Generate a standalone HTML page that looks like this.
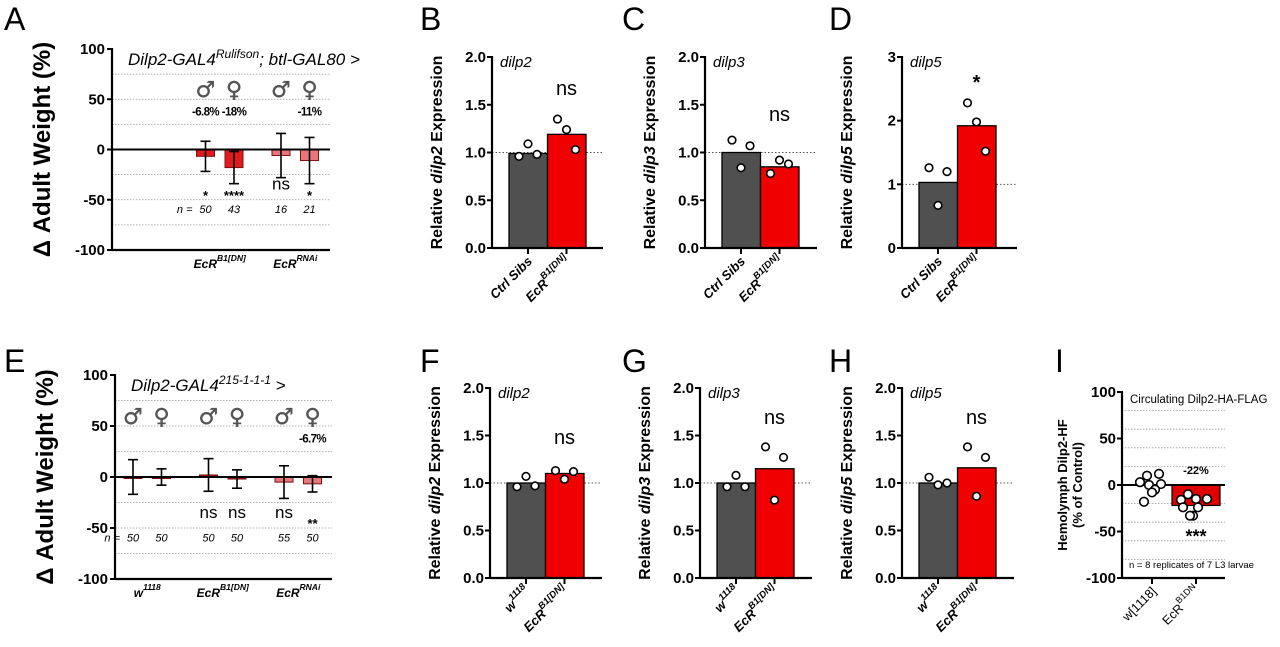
<!DOCTYPE html>
<html><head><meta charset="utf-8"><style>
body{margin:0;background:#fff}
svg{display:block;font-family:"Liberation Sans",Arial,sans-serif}
</style></head><body>
<svg id="fig" width="1280" height="647" viewBox="0 0 1280 647" xmlns="http://www.w3.org/2000/svg"></svg>
<script>
// ---- data: weight panels ----
const weightCats = ["w1118 male","w1118 female","EcRB1DN male","EcRB1DN female","EcRRNAi male","EcRRNAi female"];
const weightA = [null,null,-6.8,-18,-6,-11];
const weightAErr = [null,null,15,16,22,23];
const weightANs = ["","","50","43","16","21"];
const weightAStars = ["","","*","****","ns","*"];
const weightE = [0,0,2,-2,-5,-6.7];
const weightEErr = [17,8,16,9,16,8];
const weightENs = ["50","50","50","50","55","50"];
const weightEStars = ["","","ns","ns","ns","**"];
const weightTicks = [100,50,0,-50,-100];
// ---- data: expression panels ----
const exprCats = ["ctrl","EcRB1DN"];
const exprB = [0.99,1.19]; const exprBPts = [[0.96,1.09,0.98],[1.35,1.24,1.03]];
const exprC = [1.0,0.85]; const exprCPts = [[1.13,0.84,1.07],[0.78,0.92,0.88]];
const exprD = [1.03,1.92]; const exprDPts = [[1.26,0.67,1.2],[2.28,1.98,1.52]];
const exprF = [1.0,1.1]; const exprFPts = [[0.96,1.07,0.97],[1.13,1.04,1.12]];
const exprG = [1.0,1.15]; const exprGPts = [[0.96,1.08,0.96],[1.38,0.82,1.27]];
const exprH = [1.0,1.16]; const exprHPts = [[1.06,0.98,1.0],[1.38,0.86,1.27]];
const ticks2 = [0,0.5,1.0,1.5,2.0];
const ticks3 = [0,1,2,3];
// ---- data: panel I ----
const hemoBar = [0,-22];
const hemoW = [3,10,0,12,1,-5,-8,-18];
const hemoE = [-10,-15,-15,-16,-24,-24,-33,-33];
const hemoTicks = [100,50,0,-50,-100];

const svg = document.getElementById('fig');
const NS = "http://www.w3.org/2000/svg";
function el(tag, attrs, parent){const e=document.createElementNS(NS,tag);for(const k in attrs)e.setAttribute(k,attrs[k]);(parent||svg).appendChild(e);return e;}
function txt(s, attrs, parent){const e=el('text',attrs,parent);e.textContent=s;return e;}
function supTxt(base, sup, attrs, supSize, parent){
  const e=el('text',attrs,parent);
  const t1=document.createElementNS(NS,'tspan');t1.textContent=base;e.appendChild(t1);
  const t2=document.createElementNS(NS,'tspan');t2.setAttribute('dy','-7');t2.setAttribute('font-size',supSize);t2.textContent=sup;e.appendChild(t2);
  return e;
}
function richTxt(parts, attrs, supSize, parent){
  const e=el('text',attrs,parent);
  let up=false;
  parts.forEach(([s,sup])=>{
    const t=document.createElementNS(NS,'tspan');t.textContent=s;
    if(sup&&!up){t.setAttribute('dy','-7');up=true;}
    else if(!sup&&up){t.setAttribute('dy','7');up=false;}
    if(sup)t.setAttribute('font-size',supSize);
    e.appendChild(t);
  });
  return e;
}
function letter(s,x,y){const t=txt(s,{x:x,y:y,'font-size':32});

}

letter("A",4,30);letter("B",420,30);letter("C",622,30);letter("D",829,30);
letter("E",4,372);letter("F",420,372);letter("G",622,372);letter("H",829,372);letter("I",1055,372);

function weightPanel(ax, y100, yM100, xend, vals, errs, ns, stars, colors, titleParts, groupLabels, pct, nPrefixSlot, name){
  const g=el('g',{});
  
  
  const yS=v=>y100+(100-v)*(yM100-y100)/200;
  const xS=i=>ax+18+75.5*Math.floor(i/2)+28.5*(i%2);
  for(let v=75;v>=-75;v-=25){ if(v===0)continue;
    el('line',{x1:ax,x2:xend,y1:yS(v),y2:yS(v),stroke:'#999','stroke-width':0.8,'stroke-dasharray':'1.5,1.5'},g);}
  weightTicks.forEach(t=>{
    el('line',{x1:ax-5,x2:ax,y1:yS(t),y2:yS(t),stroke:'#000','stroke-width':2},g);
    txt(String(t),{x:ax-7,y:yS(t)+5,'text-anchor':'end','font-size':15,'font-weight':'bold'},g);
  });
  vals.forEach((v,i)=>{ if(v===null)return;
    const x=xS(i), y0=yS(0), y=yS(v);
    const b=el('rect',{x:x-9,y:Math.min(y,y0),width:18,height:Math.max(Math.abs(y-y0),1.5),fill:colors[i],stroke:'#7a1010','stroke-width':1},g);
    
    
    const e=errs[i];
    el('line',{x1:x,x2:x,y1:yS(v+e),y2:yS(v-e),stroke:'#000','stroke-width':1.6},g);
    el('line',{x1:x-5,x2:x+5,y1:yS(v+e),y2:yS(v+e),stroke:'#000','stroke-width':1.6},g);
    el('line',{x1:x-5,x2:x+5,y1:yS(v-e),y2:yS(v-e),stroke:'#000','stroke-width':1.6},g);
    txt(i%2===0?'♂':'♀',{x:x,y:yS(52),'text-anchor':'middle','font-size':22,fill:'#555','font-family':'DejaVu Sans',stroke:'#555','stroke-width':0.4},g);
    txt(ns[i],{x:x,y:yS(-63),'text-anchor':'middle','font-size':11,'font-style':'italic'},g);
    if(stars[i]==='ns') txt('ns',{x:x,y:yS(-40),'text-anchor':'middle','font-size':17},g);
    else if(stars[i]) txt(stars[i],{x:x,y:yS(-50),'text-anchor':'middle','font-size':13,'font-weight':'bold'},g);
    if(pct[i]) txt(pct[i],{x:x,y:yS(34),'text-anchor':'middle','font-size':11.5,'font-weight':'bold','letter-spacing':'-0.6'},g);
  });
  el('line',{x1:ax,x2:xend,y1:yS(0),y2:yS(0),stroke:'#000','stroke-width':2},g);
  el('line',{x1:ax,x2:ax,y1:y100-1,y2:yM100+1,stroke:'#000','stroke-width':2.2},g);
  el('line',{x1:ax,x2:xend,y1:yM100,y2:yM100,stroke:'#000','stroke-width':2.2},g);
  txt('n =',{x:xS(nPrefixSlot)-13,y:yS(-63),'text-anchor':'end','font-size':11,'font-style':'italic'},g);
  richTxt(titleParts,{x:ax+16,y:y100+16,'font-size':17,'font-style':'italic'},12,g);
  groupLabels.forEach((gl,k)=>{ if(!gl)return;
    const cx=(xS(2*k)+xS(2*k+1))/2;
    supTxt(gl[0],gl[1],{x:cx,y:yM100+18,'text-anchor':'middle','font-size':12,'font-weight':'bold','font-style':'italic'},8.5,g);
  });
  const yt=txt('Δ Adult Weight (%)',{x:0,y:0,'text-anchor':'middle','font-size':24,'font-weight':'bold',transform:`translate(${ax-62},${(y100+yM100)/2}) rotate(-90)`},g);
  
  
}
weightPanel(112,49,250,330,weightA,weightAErr,weightANs,weightAStars,
  [null,null,'#e31a1c','#e31a1c','#e8777a','#e8777a'],[['Dilp2-GAL4',false],['Rulifson',true],['; btl-GAL80 >',false]],
  [null,['EcR','B1[DN]'],['EcR','RNAi']],['','','-6.8%','-18%','','-11%'],2,'panel-a-weight-chart');
weightPanel(115,375,579,332,weightE,weightEErr,weightENs,weightEStars,
  ['none','none','#b01010','#b01010','#e8777a','#e8777a'],[['Dilp2-GAL4',false],['215-1-1-1',true],[' >',false]],
  [['w','1118'],['EcR','B1[DN]'],['EcR','RNAi']],['','','','','','-6.7%'],0,'panel-e-weight-chart');

function exprPanel(ax,yTop,yBot,xend,maxV,ticks,tickFmt,vals,pts,gene,sig,sigV,labels,name){
  const g=el('g',{});
  
  
  const yS=v=>yBot-v*(yBot-yTop)/maxV;
  const xS=i=>ax+17+19+38.5*i;
  el('line',{x1:ax,x2:xend,y1:yS(1),y2:yS(1),stroke:'#555','stroke-width':1,'stroke-dasharray':'1.5,2'},g);
  const cols=['#505050','#f00000'];
  vals.forEach((v,i)=>{
    const b=el('rect',{x:xS(i)-19,y:yS(v),width:38.5,height:yBot-yS(v),fill:cols[i],stroke:'#000','stroke-width':1.3},g);
    
    
  });
  pts.forEach((arr,i)=>arr.forEach((p,j)=>{
    const c=el('circle',{cx:xS(i)+(j-1)*9,cy:yS(p),r:3.8,fill:'#fff',stroke:'#000','stroke-width':1.6},g);
    
    
  }));
  ticks.forEach(t=>{
    el('line',{x1:ax-5,x2:ax,y1:yS(t),y2:yS(t),stroke:'#000','stroke-width':2},g);
    txt(tickFmt(t),{x:ax-6,y:yS(t)+5,'text-anchor':'end','font-size':15,'font-weight':'bold'},g);
  });
  el('line',{x1:ax,x2:ax,y1:yTop-1,y2:yBot+1,stroke:'#000','stroke-width':2.2},g);
  el('line',{x1:ax,x2:xend,y1:yBot,y2:yBot,stroke:'#000','stroke-width':2.2},g);
  [0,1].forEach(i=>el('line',{x1:xS(i),x2:xS(i),y1:yBot,y2:yBot+6,stroke:'#000','stroke-width':2},g));
  txt(gene,{x:ax+8,y:yTop+10,'font-size':15,'font-style':'italic'},g);
  if(sig==='ns') txt('ns',{x:xS(1),y:yS(sigV),'text-anchor':'middle','font-size':20},g);
  else txt(sig,{x:xS(1),y:yS(sigV),'text-anchor':'middle','font-size':20,'font-weight':'bold'},g);
  const yt=el('text',{x:0,y:0,'text-anchor':'middle','font-size':16,'font-weight':'bold',transform:`translate(${ax-50},${(yTop+yBot)/2}) rotate(-90)`},g);
  
  
  [['Relative ',''],[gene,'italic'],[' Expression','']].forEach(([s,st])=>{const t=document.createElementNS(NS,'tspan');t.textContent=s;if(st)t.setAttribute('font-style','italic');yt.appendChild(t);});
  labels.forEach((l,i)=>{
    supTxt(l[0],l[1],{x:0,y:0,'text-anchor':'end','font-size':13,'font-weight':'bold','font-style':'italic',transform:`translate(${xS(i)+5},${yBot+14}) rotate(-45)`},9.5,g);
  });
}
const f1=t=>t.toFixed(1), f0=t=>String(t);
exprPanel(492,57,248,603,2,ticks2,f1,exprB,exprBPts,'dilp2','ns',1.6,[['Ctrl Sibs',''],['EcR','B1[DN]']],'panel-b-dilp2-chart');
exprPanel(705,57,248,817,2,ticks2,f1,exprC,exprCPts,'dilp3','ns',1.33,[['Ctrl Sibs',''],['EcR','B1[DN]']],'panel-c-dilp3-chart');
exprPanel(902,57,248,1017,3,ticks3,f0,exprD,exprDPts,'dilp5','*',2.5,[['Ctrl Sibs',''],['EcR','B1[DN]']],'panel-d-dilp5-chart');
exprPanel(490,388,578,602,2,ticks2,f1,exprF,exprFPts,'dilp2','ns',1.41,[['w','1118'],['EcR','B1[DN]']],'panel-f-dilp2-chart');
exprPanel(700,388,578,812,2,ticks2,f1,exprG,exprGPts,'dilp3','ns',1.62,[['w','1118'],['EcR','B1[DN]']],'panel-g-dilp3-chart');
exprPanel(902,388,578,1014,2,ticks2,f1,exprH,exprHPts,'dilp5','ns',1.62,[['w','1118'],['EcR','B1[DN]']],'panel-h-dilp5-chart');

(function(){
  const g=el('g',{});
  
  
  const ax=1122,y100=392,yM=578,xend=1225;
  const yS=v=>y100+(100-v)*(yM-y100)/200;
  for(let v=80;v>=-80;v-=20){ if(v===0)continue;
    el('line',{x1:ax,x2:xend,y1:yS(v),y2:yS(v),stroke:'#999','stroke-width':0.8,'stroke-dasharray':'1.5,1.5'},g);}
  const cx=[1152,1196];
  const b=el('rect',{x:cx[1]-24,y:yS(0),width:48,height:yS(hemoBar[1])-yS(0),fill:'#e00000',stroke:'#000','stroke-width':1.2},g);
  
  
  el('line',{x1:ax,x2:xend,y1:yS(0),y2:yS(0),stroke:'#000','stroke-width':2},g);
  const jw=[-12,-5,-3,7,9,3,0,-8], je=[-8,0,11,-15,-13,2,-3,-6];
  [hemoW,hemoE].forEach((arr,k)=>arr.forEach((v,j)=>{
    const c=el('circle',{cx:cx[k]+(k?je[j]:jw[j]),cy:yS(v),r:4.3,fill:'#fff',stroke:'#000','stroke-width':1.6},g);
    
    
  }));
  hemoTicks.forEach(t=>{
    el('line',{x1:ax-5,x2:ax,y1:yS(t),y2:yS(t),stroke:'#000','stroke-width':2},g);
    txt(String(t),{x:ax-6,y:yS(t)+5,'text-anchor':'end','font-size':15,'font-weight':'bold'},g);
  });
  el('line',{x1:ax,x2:ax,y1:y100-1,y2:yM+1,stroke:'#000','stroke-width':2.2},g);
  el('line',{x1:ax,x2:xend,y1:yM,y2:yM,stroke:'#000','stroke-width':2.2},g);
  cx.forEach(x=>el('line',{x1:x,x2:x,y1:yM,y2:yM+6,stroke:'#000','stroke-width':2},g));
  txt('Circulating Dilp2-HA-FLAG',{x:ax+8,y:y100+11,'font-size':11.5},g);
  txt('-22%',{x:cx[1],y:yS(12),'text-anchor':'middle','font-size':11,'font-weight':'bold'},g);
  txt('***',{x:cx[1],y:yS(-62),'text-anchor':'middle','font-size':18,'font-weight':'bold'},g);
  txt('n = 8 replicates of 7 L3 larvae',{x:ax+7,y:yS(-89),'font-size':9.5},g);
  const t1=txt('Hemolymph Dilp2-HF',{x:0,y:0,'text-anchor':'middle','font-size':13,'font-weight':'bold',transform:`translate(1067,485) rotate(-90)`},g);
  
  
  txt('(% of Control)',{x:0,y:0,'text-anchor':'middle','font-size':13,'font-weight':'bold',transform:`translate(1082,485) rotate(-90)`},g);
  txt('w[1118]',{x:0,y:0,'text-anchor':'end','font-size':12.5,transform:`translate(${cx[0]+5},${yM+14}) rotate(-45)`},g);
  supTxt('EcR','B1DN',{x:0,y:0,'text-anchor':'end','font-size':12.5,transform:`translate(${cx[1]+5},${yM+14}) rotate(-45)`},9,g);
})();
</script>
</body></html>
